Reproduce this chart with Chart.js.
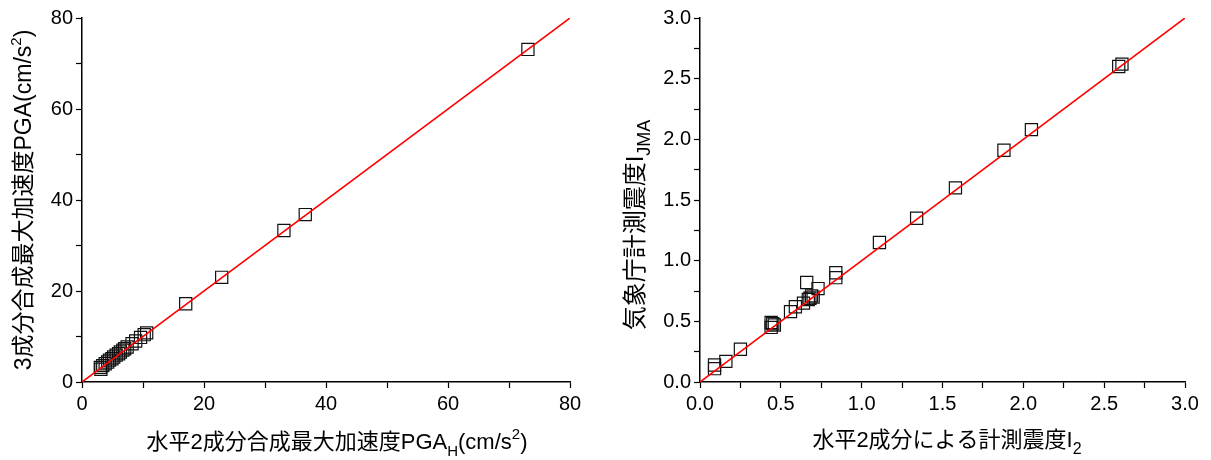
<!DOCTYPE html>
<html>
<head>
<meta charset="utf-8">
<script src="https://cdn.jsdelivr.net/npm/chart.js@4/dist/chart.umd.min.js"></script>
<style>
  html, body { margin: 0; padding: 0; background: #fff; }
  #wrap { position: relative; width: 1211px; height: 460px; overflow: hidden; }
  canvas { position: absolute; top: 0; }
</style>
</head>
<body>
<div id="wrap">
  <canvas id="c1" width="605" height="460" style="left:0px"></canvas>
  <canvas id="c2" width="606" height="460" style="left:605px"></canvas>
</div>
<script>
// ---- Data ----
const pgaH = [73.1, 36.6, 33.1, 22.9, 17.0, 10.6, 10.2, 9.6, 8.8, 8.2, 7.4, 7.0, 6.7, 6.3, 6.0, 5.6, 5.2, 4.9, 4.5, 4.2, 3.8, 3.4, 3.0, 3.1];
const pga3 = [73.1, 36.8, 33.3, 23.0, 17.2, 10.8, 10.4, 9.8, 9.0, 8.4, 7.7, 7.3, 7.0, 6.6, 6.2, 5.9, 5.5, 5.1, 4.8, 4.4, 4.0, 3.6, 3.2, 2.8];

const i2   = [0.09, 0.09, 0.16, 0.25, 0.44, 0.45, 0.44, 0.46, 0.56, 0.59, 0.64, 0.67, 0.69, 0.70, 0.68, 0.66, 0.73, 0.84, 0.84, 1.11, 1.34, 1.58, 1.88, 2.05, 2.59, 2.61];
const ijma = [0.14, 0.11, 0.17, 0.27, 0.45, 0.48, 0.49, 0.47, 0.58, 0.62, 0.65, 0.68, 0.71, 0.70, 0.69, 0.82, 0.77, 0.86, 0.90, 1.15, 1.35, 1.60, 1.91, 2.08, 2.60, 2.62];

const lineLeft  = [0, 80];   // y = x reference line end values
const lineRight = [0, 3];

const leftXTitle  = [["水平2成分合成最大加速度PGA","n"],["H","sub"],["(cm/s","n"],["2","sup"],[")","n"]];
const leftYTitle  = [["3成分合成最大加速度PGA(cm/s","n"],["2","sup"],[")","n"]];
const rightXTitle = [["水平2成分による計測震度I","n"],["2","sub"]];
const rightYTitle = [["気象庁計測震度I","n"],["JMA","sub"]];

// ---- helpers ----
const TITLE_FAMILY = '"Liberation Sans", "Noto Sans CJK JP", sans-serif';
const TICK_FONT = { family: '"Liberation Sans", Arial, sans-serif', size: 20 };
function fontFor(type, size, subSize) {
  if (type === 'n') return size + 'px ' + TITLE_FAMILY;
  return subSize + 'px ' + TITLE_FAMILY;
}
function drawRich(ctx, parts, cx, cy, rotate, size, subSize) {
  ctx.save();
  ctx.fillStyle = '#000';
  ctx.textBaseline = 'middle';
  ctx.textAlign = 'left';
  let total = 0;
  const widths = parts.map(p => { ctx.font = fontFor(p[1], size, subSize); const w = ctx.measureText(p[0]).width; total += w; return w; });
  ctx.translate(cx, cy);
  if (rotate) ctx.rotate(-Math.PI / 2);
  let x = -total / 2;
  parts.forEach((p, i) => {
    ctx.font = fontFor(p[1], size, subSize);
    const dy = p[1] === 'sub' ? 9 : (p[1] === 'sup' ? -8 : 0);
    ctx.fillText(p[0], x, dy);
    x += widths[i];
  });
  ctx.restore();
}
function titlesPlugin(cfg) {
  return {
    id: 'titles',
    afterDraw(chart) {
      const ctx = chart.ctx;
      drawRich(ctx, cfg.x, cfg.xc, cfg.xy, false, cfg.xs[0], cfg.xs[1]);
      drawRich(ctx, cfg.y, cfg.yx, cfg.yc, true, cfg.ys[0], cfg.ys[1]);
    }
  };
}
function makeChart(id, xs, ys, lineEnds, max, step, labelEvery, decimals, axisW, padRight, titleCfg) {
  const pts = xs.map((x, i) => ({ x: x, y: ys[i] }));
  const line = lineEnds.map(v => ({ x: v, y: v }));
  const cb = v => {
    const r = Math.round(v / labelEvery * 1000) / 1000;
    return Number.isInteger(r) ? v.toFixed(decimals) : '';
  };
  const axisCommon = (afterFit, pad) => ({
    type: 'linear', min: 0, max: max,
    ticks: { stepSize: step, autoSkip: false, maxRotation: 0, callback: cb, font: TICK_FONT, color: '#000', padding: pad },
    grid: { drawOnChartArea: false, tickLength: 6, tickColor: '#000', tickWidth: 1.2 },
    border: { color: '#000', width: 1.5 },
    afterFit: afterFit
  });
  return new Chart(document.getElementById(id), {
    type: 'scatter',
    data: {
      datasets: [
        { type: 'line', data: line, borderColor: '#ff0000', borderWidth: 1.6, pointRadius: 0, fill: false, tension: 0 },
        { data: pts, pointStyle: 'rect', pointRadius: 8.6, pointHoverRadius: 8.6, borderColor: '#111', borderWidth: 1.2, backgroundColor: 'rgba(0,0,0,0)' }
      ]
    },
    options: {
      responsive: false, animation: false, events: [],
      layout: { padding: { left: 0, right: padRight, top: 18, bottom: 0 } },
      plugins: { legend: { display: false }, tooltip: { enabled: false } },
      scales: {
        x: axisCommon(s => { s.height = 78; }, 4),
        y: axisCommon(s => { s.width = axisW; }, 3)
      }
    },
    plugins: [titlesPlugin(titleCfg)]
  });
}

makeChart('c1', pgaH, pga3, lineLeft, 80, 10, 20, 0, 82, 35,
  { x: leftXTitle, xc: 337, xy: 443, xs: [22, 15], y: leftYTitle, yx: 25, yc: 200, ys: [23, 15] });
makeChart('c2', i2, ijma, lineRight, 3, 0.25, 0.5, 1, 95, 26,
  { x: rightXTitle, xc: 342, xy: 441, xs: [22, 16], y: rightYTitle, yx: 31, yc: 225, ys: [24, 18] });
</script>
</body>
</html>
